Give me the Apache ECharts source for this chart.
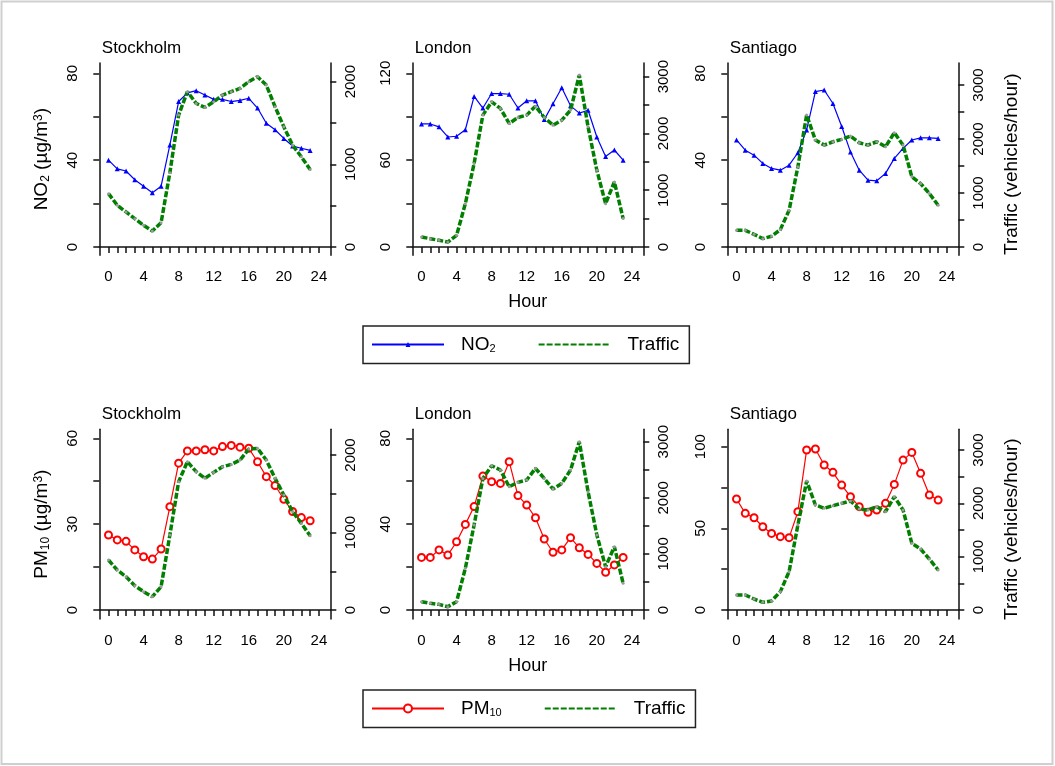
<!DOCTYPE html>
<html>
<head>
<meta charset="utf-8">
<script src="https://cdn.jsdelivr.net/npm/echarts@6/dist/echarts.min.js"></script>
<style>
  html, body { margin: 0; padding: 0; background: #fff; }
  #chart { width: 1055px; height: 766px; }
</style>
</head>
<body>
<div id="chart"></div>
<script>
// ---- data ----
const hours = [0, 1, 2, 3, 4, 5, 6, 7, 8, 9, 10, 11, 12, 13, 14, 15, 16, 17, 18, 19, 20, 21, 22, 23];
const cities = ['Stockholm', 'London', 'Santiago'];

// NO2 (µg/m3) by hour
const no2Stockholm = [40, 36, 35, 31, 28, 25, 28, 47, 67, 71, 72, 70, 68, 68, 67, 67.5, 68.5, 64, 57, 54, 50, 46.5, 45.5, 44.5];
const no2London = [85, 85, 83, 76, 76.5, 81, 104, 96, 106, 106, 105.5, 96, 101, 101, 88, 99, 110, 97.5, 92.5, 94.5, 76, 62.5, 67, 60];
const no2Santiago = [49.3, 44.6, 42.3, 38.5, 36.2, 35.4, 37.7, 43.4, 53.9, 71.6, 72.3, 66.1, 55.5, 43.8, 35.4, 30.8, 30.5, 33.9, 40.8, 45.4, 49.3, 50.3, 50.3, 50];

// PM10 (µg/m3) by hour
const pm10Stockholm = [26.2, 24.5, 24, 21, 18.6, 17.8, 21.3, 36.1, 51.3, 55.6, 55.6, 56, 55.6, 57.1, 57.5, 56.9, 56.5, 51.8, 46.6, 43.5, 38.7, 34.4, 32.3, 31.2];
const pm10London = [24.5, 24.5, 28, 25.6, 31.8, 39.9, 48.2, 62.4, 59.8, 59, 69.1, 53.3, 48.9, 43, 33.1, 26.9, 28, 33.7, 29, 25.9, 21.7, 17.6, 21, 24.5];
const pm10Santiago = [68, 59.2, 56.5, 51, 46.9, 44.9, 44.3, 60.2, 98, 98.6, 88.8, 84.3, 76.5, 69.4, 63.3, 59.8, 61.2, 65.3, 76.9, 91.8, 96.5, 83.7, 70.4, 67.3];

// Traffic (vehicles/hour), matched to the NO2 periods
const trafficNo2Stockholm = [646, 505, 424, 343, 263, 194, 295, 900, 1596, 1879, 1737, 1689, 1757, 1838, 1879, 1919, 2000, 2060, 1959, 1697, 1454, 1232, 1091, 937];
const trafficNo2London = [176, 147, 118, 88, 206, 764, 1470, 2323, 2558, 2440, 2176, 2281, 2323, 2481, 2281, 2146, 2234, 2411, 3028, 2117, 1352, 764, 1147, 500];
const trafficNo2Santiago = [309, 309, 235, 155, 198, 322, 680, 1485, 2443, 1980, 1887, 1949, 1992, 2054, 1930, 1887, 1949, 1856, 2116, 1887, 1299, 1175, 990, 773];

// Traffic (vehicles/hour), matched to the PM10 periods
const trafficPm10Stockholm = [645, 516, 430, 314, 237, 172, 301, 968, 1656, 1914, 1785, 1699, 1776, 1849, 1879, 1935, 2077, 2086, 1935, 1699, 1484, 1269, 1118, 959];
const trafficPm10London = [149, 119, 101, 59, 149, 743, 1515, 2346, 2572, 2495, 2198, 2275, 2317, 2525, 2346, 2156, 2257, 2495, 3000, 2109, 1337, 772, 1129, 475];
const trafficPm10Santiago = [281, 281, 206, 144, 169, 344, 719, 1594, 2419, 1969, 1906, 1956, 2000, 2044, 1894, 1875, 1938, 1844, 2125, 1875, 1250, 1144, 956, 750];

// ---- tick marks and tick labels ----
const hourTicks = [0, 1, 2, 3, 4, 5, 6, 7, 8, 9, 10, 11, 12, 13, 14, 15, 16, 17, 18, 19, 20, 21, 22, 23, 24];
const hourLabels = [0, 4, 8, 12, 16, 20, 24];
const ticks0to80 = [0, 20, 40, 60, 80];
const labels0to80 = [0, 40, 80];
const ticks0to120 = [0, 30, 60, 90, 120];
const labels0to120 = [0, 60, 120];
const ticks0to60 = [0, 15, 30, 45, 60];
const labels0to60 = [0, 30, 60];
const ticks0to100 = [0, 25, 50, 75, 100];
const labels0to100 = [0, 50, 100];
const ticksTraffic2000 = [0, 500, 1000, 1500, 2000];
const labelsTraffic2000 = [0, 1000, 2000];
const ticksTraffic3000 = [0, 500, 1000, 1500, 2000, 2500, 3000];
const labelsTraffic3000 = [0, 1000, 2000, 3000];

// ---- layout ----
const FONT = 'Liberation Sans';
const rowTop = [63, 429.3];
const rowHeight = [192.3, 189.7];
const colLeft = [99.3, 412.3, 727.3];
const panelWidth = 231;
const xRange = [-1.05, 25.3];

const panels = [
  { row: 0, col: 0, pol: 'NO2', polData: no2Stockholm, trafficData: trafficNo2Stockholm,
    yL: [-3.82, 84.75], tL: ticks0to80, lL: labels0to80, yR: [-100, 2226], tR: ticksTraffic2000, lR: labelsTraffic2000 },
  { row: 0, col: 1, pol: 'NO2', polData: no2London, trafficData: trafficNo2London,
    yL: [-5.73, 127.1], tL: ticks0to120, lL: labels0to120, yR: [-146, 3241], tR: ticksTraffic3000, lR: labelsTraffic3000 },
  { row: 0, col: 2, pol: 'NO2', polData: no2Santiago, trafficData: trafficNo2Santiago,
    yL: [-3.82, 84.75], tL: ticks0to80, lL: labels0to80, yR: [-153.7, 3407], tR: ticksTraffic3000, lR: labelsTraffic3000 },
  { row: 1, col: 0, pol: 'PM10', polData: pm10Stockholm, trafficData: trafficPm10Stockholm,
    yL: [-3.14, 63.14], tL: ticks0to60, lL: labels0to60, yR: [-116, 2332], tR: ticksTraffic2000, lR: labelsTraffic2000 },
  { row: 1, col: 1, pol: 'PM10', polData: pm10London, trafficData: trafficPm10London,
    yL: [-4.19, 84.2], tL: ticks0to80, lL: labels0to80, yR: [-160, 3221], tR: ticksTraffic3000, lR: labelsTraffic3000 },
  { row: 1, col: 2, pol: 'PM10', polData: pm10Santiago, trafficData: trafficPm10Santiago,
    yL: [-5.51, 110.65], tL: ticks0to100, lL: labels0to100, yR: [-169, 3388], tR: ticksTraffic3000, lR: labelsTraffic3000 }
];

const axisLineStyle = { color: '#111', width: 1.5 };
const tickLabelStyle = { fontFamily: FONT, fontSize: 15, color: '#000', formatter: v => String(v) };

const richName = {
  t: { fontFamily: FONT, fontSize: 19, color: '#000' },
  s: { fontFamily: FONT, fontSize: 12, color: '#000', verticalAlign: 'bottom' },
  p: { fontFamily: FONT, fontSize: 12, color: '#000', verticalAlign: 'top' }
};

const grids = [], xAxes = [], yAxes = [], series = [], titles = [];

panels.forEach((p, i) => {
  grids.push({ left: colLeft[p.col], top: rowTop[p.row], width: panelWidth, height: rowHeight[p.row], containLabel: false });

  titles.push({
    text: cities[p.col], left: colLeft[p.col] + 2.5, top: rowTop[p.row] - 23.5, padding: 0,
    textStyle: { fontFamily: FONT, fontSize: 17, fontWeight: 'normal', color: '#000' }
  });

  xAxes.push({
    type: 'value', gridIndex: i, min: xRange[0], max: xRange[1],
    name: p.col === 1 ? 'Hour' : '', nameLocation: 'middle', nameGap: 38,
    nameTextStyle: { fontFamily: FONT, fontSize: 18, color: '#000' },
    axisLine: { show: true, lineStyle: axisLineStyle },
    axisTick: { show: true, inside: false, length: 6, lineStyle: axisLineStyle, customValues: hourTicks },
    axisLabel: { ...tickLabelStyle, margin: 14, customValues: hourLabels },
    splitLine: { show: false }
  });

  const leftName = p.col === 0
    ? (p.pol === 'NO2' ? '{t|NO}{s|2}{t| (µg/m}{p|3}{t|)}' : '{t|PM}{s|10}{t| (µg/m}{p|3}{t|)}')
    : '';
  yAxes.push({
    type: 'value', gridIndex: i, position: 'left', min: p.yL[0], max: p.yL[1],
    name: leftName, nameLocation: 'middle', nameRotate: 90, nameGap: 48,
    nameTextStyle: { rich: richName },
    axisLine: { show: true, onZero: false, lineStyle: axisLineStyle },
    axisTick: { show: true, inside: false, length: 6, lineStyle: axisLineStyle, customValues: p.tL },
    axisLabel: { ...tickLabelStyle, rotate: 90, margin: 19, customValues: p.lL },
    splitLine: { show: false }
  });
  yAxes.push({
    type: 'value', gridIndex: i, position: 'right', min: p.yR[0], max: p.yR[1],
    name: p.col === 2 ? 'Traffic (vehicles/hour)' : '', nameLocation: 'middle', nameRotate: 90, nameGap: 44,
    nameTextStyle: { fontFamily: FONT, fontSize: 19, color: '#000', padding: [0, 10, 0, 0] },
    axisLine: { show: true, onZero: false, lineStyle: axisLineStyle },
    axisTick: { show: true, inside: false, length: 6, lineStyle: axisLineStyle, customValues: p.tR },
    axisLabel: { ...tickLabelStyle, rotate: 90, margin: 13, customValues: p.lR },
    splitLine: { show: false }
  });

  const isNo2 = p.pol === 'NO2';
  series.push({
    name: p.pol, type: 'line', xAxisIndex: i, yAxisIndex: 2 * i,
    data: hours.map((h, k) => [h, p.polData[k]]),
    symbol: isNo2 ? 'triangle' : 'emptyCircle',
    symbolSize: isNo2 ? 5 : 7,
    showAllSymbol: true,
    lineStyle: { color: isNo2 ? '#0000ff' : '#ff0000', width: 1.2 },
    itemStyle: { color: isNo2 ? '#0000ff' : '#ff0000', borderWidth: isNo2 ? 0 : 1.5 },
    z: 2
  });
  series.push({
    name: 'Traffic', type: 'line', xAxisIndex: i, yAxisIndex: 2 * i + 1,
    data: hours.map((h, k) => [h, p.trafficData[k]]),
    symbol: 'circle', symbolSize: 3, showAllSymbol: true,
    lineStyle: { color: '#007f00', width: 3.5, type: [6, 2] },
    itemStyle: { color: '#9a9a9a' },
    z: 3
  });
});

const legendRich = {
  g: { width: 12 },
  t: { fontFamily: FONT, fontSize: 19, color: '#000', lineHeight: 20 },
  s: { fontFamily: FONT, fontSize: 11, color: '#000', verticalAlign: 'bottom' }
};
const legendFormatter = name =>
  name === 'NO2' ? '{g|}{t|NO}{s|2}' : name === 'PM10' ? '{g|}{t|PM}{s|10}' : '{g|}{t|' + name + '}';

const legendBase = {
  orient: 'horizontal', left: 363, itemWidth: 72, itemGap: 42,
  padding: [9, 10, 9, 8], borderColor: '#222', borderWidth: 1.5,
  textStyle: { rich: legendRich }, formatter: legendFormatter
};
// the traffic key shows only its dashed line, without the point marker
const trafficKey = { name: 'Traffic', itemStyle: { color: 'rgba(0,0,0,0)' } };

const option = {
  animation: false,
  backgroundColor: '#fff',
  title: titles,
  grid: grids,
  xAxis: xAxes,
  yAxis: yAxes,
  legend: [
    { ...legendBase, top: 326, itemHeight: 6, data: ['NO2', trafficKey] },
    { ...legendBase, top: 690, itemHeight: 10, data: ['PM10', trafficKey] }
  ],
  graphic: [{
    type: 'rect', silent: true,
    shape: { x: 1.5, y: 1.5, width: 1051, height: 762.5 },
    style: { fill: 'none', stroke: '#cfcfcf', lineWidth: 2 }
  }],
  series: series
};

const chart = echarts.init(document.getElementById('chart'), null, { renderer: 'canvas' });
chart.setOption(option);
</script>
</body>
</html>
